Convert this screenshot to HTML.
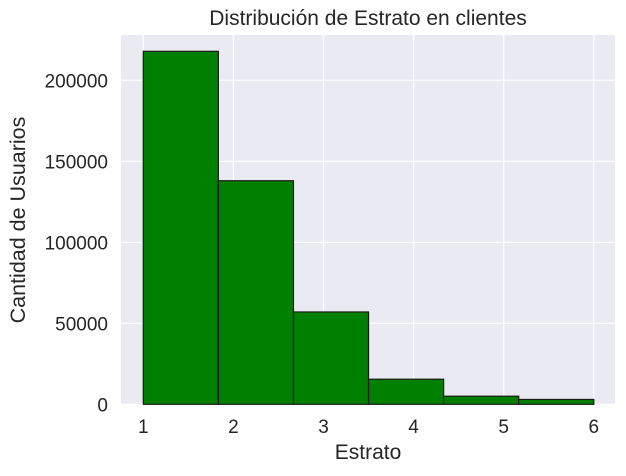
<!DOCTYPE html>
<html><head><meta charset="utf-8"><style>
body{margin:0;background:#fff;font-family:"Liberation Sans",sans-serif}
</style></head><body>
<svg width="626" height="471" id="c">
<rect x="121" y="35" width="494" height="369.3" fill="#eaeaf2"/>
<g id="grid"></g><g id="bars"></g><g id="ticks"></g>
<text x="368" y="25" font-size="21" text-anchor="middle" fill="#262626">Distribución de Estrato en clientes</text>
<text x="368" y="459" font-size="21" text-anchor="middle" fill="#262626">Estrato</text>
<text transform="translate(25,220) rotate(-90)" font-size="21.5" text-anchor="middle" fill="#262626">Cantidad de Usuarios</text>
</svg>
<script>
const binEdges=[1,1.8333,2.6667,3.5,4.3333,5.1667,6];
const counts=[217900,138000,57000,15500,5000,3000];
const xTicks=[1,2,3,4,5,6];
const yTicks=[0,50000,100000,150000,200000];
const NS="http://www.w3.org/2000/svg";
const X=v=>143.3+(v-1)*90.1;
const Y=v=>404.3-v*324/200000;
function mk(t,a,p){const e=document.createElementNS(NS,t);for(const k in a)e.setAttribute(k,a[k]);document.getElementById(p).appendChild(e);return e;}
xTicks.forEach(t=>{
 const l=mk('line',{x1:X(t),x2:X(t),y1:35,y2:404.3,stroke:'#fff','stroke-width':1.2},'grid');
 
 
 const tx=mk('text',{x:X(t),y:433,'font-size':19,'text-anchor':'middle',fill:'#262626'},'ticks');
 tx.textContent=t;
 
 
});
yTicks.forEach(t=>{
 const l=mk('line',{x1:121,x2:615,y1:Y(t),y2:Y(t),stroke:'#fff','stroke-width':1.2},'grid');
 
 
 const tx=mk('text',{x:108,y:Y(t)+7,'font-size':19,'text-anchor':'end',fill:'#262626'},'ticks');
 tx.textContent=t;
 
 
});
counts.forEach((c,i)=>{
 const r=mk('rect',{x:X(binEdges[i]),y:Y(c),width:X(binEdges[i+1])-X(binEdges[i]),height:Y(0)-Y(c),fill:'#008000',stroke:'#1a1a1a','stroke-width':1.2},'bars');
 
 
});
</script>
</body></html>
